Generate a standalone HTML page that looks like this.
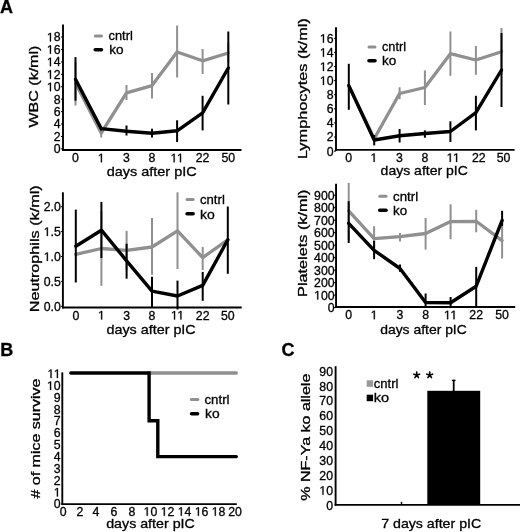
<!DOCTYPE html>
<html><head><meta charset="utf-8"><title>figure</title>
<style>
html,body{margin:0;padding:0;background:#fff;}
body{width:520px;height:532px;overflow:hidden;}
svg{display:block;will-change:transform;}
text{font-family:"Liberation Sans",sans-serif;fill:#000;stroke:#000;stroke-width:0.3px;}
</style></head><body>
<svg width="520" height="532" viewBox="0 0 520 532">
<line x1="75.5" y1="62" x2="75.5" y2="105.5" stroke="#909090" stroke-width="2" stroke-linecap="butt"/>
<line x1="101.2" y1="128.5" x2="101.2" y2="137.5" stroke="#909090" stroke-width="2" stroke-linecap="butt"/>
<line x1="126.5" y1="85" x2="126.5" y2="100" stroke="#909090" stroke-width="2" stroke-linecap="butt"/>
<line x1="152" y1="73" x2="152" y2="98.5" stroke="#909090" stroke-width="2" stroke-linecap="butt"/>
<line x1="177.1" y1="25.5" x2="177.1" y2="77.5" stroke="#909090" stroke-width="2" stroke-linecap="butt"/>
<line x1="202.6" y1="49" x2="202.6" y2="74" stroke="#909090" stroke-width="2" stroke-linecap="butt"/>
<line x1="228.3" y1="43" x2="228.3" y2="63" stroke="#909090" stroke-width="2" stroke-linecap="butt"/>
<polyline points="75.5,83 101.2,133 126.5,92.8 152,85.6 177.1,52 202.6,60.8 228.3,53" fill="none" stroke="#909090" stroke-width="3.3" stroke-linejoin="round" stroke-linecap="round"/>
<line x1="75.5" y1="57.1" x2="75.5" y2="100.7" stroke="#000000" stroke-width="2" stroke-linecap="butt"/>
<line x1="101.2" y1="126.5" x2="101.2" y2="130.5" stroke="#000000" stroke-width="2" stroke-linecap="butt"/>
<line x1="126.5" y1="125.5" x2="126.5" y2="135.5" stroke="#000000" stroke-width="2" stroke-linecap="butt"/>
<line x1="152" y1="128.75" x2="152" y2="137.5" stroke="#000000" stroke-width="2" stroke-linecap="butt"/>
<line x1="177.1" y1="120.3" x2="177.1" y2="142" stroke="#000000" stroke-width="2" stroke-linecap="butt"/>
<line x1="202.6" y1="95.8" x2="202.6" y2="130.4" stroke="#000000" stroke-width="2" stroke-linecap="butt"/>
<line x1="228.3" y1="31.5" x2="228.3" y2="104.5" stroke="#000000" stroke-width="2" stroke-linecap="butt"/>
<polyline points="75.5,79.2 101.2,128.6 126.5,131.2 152,133.2 177.1,130.8 202.6,112.9 228.3,68" fill="none" stroke="#000000" stroke-width="3.4" stroke-linejoin="round" stroke-linecap="round"/>
<line x1="63.0" y1="24.5" x2="63.0" y2="150.95" stroke="#000000" stroke-width="1.9" stroke-linecap="butt"/>
<line x1="62.05" y1="150.0" x2="241.5" y2="150.0" stroke="#000000" stroke-width="1.9" stroke-linecap="butt"/>
<text x="53.66" y="153.3" font-size="12.3" style="font-kerning:none">0</text>
<line x1="61.0" y1="148.9" x2="63.0" y2="148.9" stroke="#000000" stroke-width="1.0" stroke-linecap="butt"/>
<text x="53.66" y="140.87" font-size="12.3" style="font-kerning:none">2</text>
<line x1="61.0" y1="136.47" x2="63.0" y2="136.47" stroke="#000000" stroke-width="1.0" stroke-linecap="butt"/>
<text x="53.66" y="128.43" font-size="12.3" style="font-kerning:none">4</text>
<line x1="61.0" y1="124.03" x2="63.0" y2="124.03" stroke="#000000" stroke-width="1.0" stroke-linecap="butt"/>
<text x="53.66" y="116.0" font-size="12.3" style="font-kerning:none">6</text>
<line x1="61.0" y1="111.6" x2="63.0" y2="111.6" stroke="#000000" stroke-width="1.0" stroke-linecap="butt"/>
<text x="53.66" y="103.56" font-size="12.3" style="font-kerning:none">8</text>
<line x1="61.0" y1="99.16" x2="63.0" y2="99.16" stroke="#000000" stroke-width="1.0" stroke-linecap="butt"/>
<path d="M515,0L515,1237L197,1010L197,1180L530,1409L696,1409L696,0Z" transform="translate(46.82,91.13) scale(0.006006,-0.006006)" fill="#000" stroke="#000" stroke-width="50.0"/>
<text x="53.661" y="91.13" font-size="12.3">0</text>
<line x1="61.0" y1="86.73" x2="63.0" y2="86.73" stroke="#000000" stroke-width="1.0" stroke-linecap="butt"/>
<path d="M515,0L515,1237L197,1010L197,1180L530,1409L696,1409L696,0Z" transform="translate(46.82,78.7) scale(0.006006,-0.006006)" fill="#000" stroke="#000" stroke-width="50.0"/>
<text x="53.661" y="78.7" font-size="12.3">2</text>
<line x1="61.0" y1="74.3" x2="63.0" y2="74.3" stroke="#000000" stroke-width="1.0" stroke-linecap="butt"/>
<path d="M515,0L515,1237L197,1010L197,1180L530,1409L696,1409L696,0Z" transform="translate(46.82,66.26) scale(0.006006,-0.006006)" fill="#000" stroke="#000" stroke-width="50.0"/>
<text x="53.661" y="66.26" font-size="12.3">4</text>
<line x1="61.0" y1="61.86" x2="63.0" y2="61.86" stroke="#000000" stroke-width="1.0" stroke-linecap="butt"/>
<path d="M515,0L515,1237L197,1010L197,1180L530,1409L696,1409L696,0Z" transform="translate(46.82,53.83) scale(0.006006,-0.006006)" fill="#000" stroke="#000" stroke-width="50.0"/>
<text x="53.661" y="53.83" font-size="12.3">6</text>
<line x1="61.0" y1="49.43" x2="63.0" y2="49.43" stroke="#000000" stroke-width="1.0" stroke-linecap="butt"/>
<path d="M515,0L515,1237L197,1010L197,1180L530,1409L696,1409L696,0Z" transform="translate(46.82,41.39) scale(0.006006,-0.006006)" fill="#000" stroke="#000" stroke-width="50.0"/>
<text x="53.661" y="41.39" font-size="12.3">8</text>
<line x1="61.0" y1="36.99" x2="63.0" y2="36.99" stroke="#000000" stroke-width="1.0" stroke-linecap="butt"/>
<text x="72.08" y="162.3" font-size="12.3" style="font-kerning:none">0</text>
<path d="M515,0L515,1237L197,1010L197,1180L530,1409L696,1409L696,0Z" transform="translate(97.78,162.3) scale(0.006006,-0.006006)" fill="#000" stroke="#000" stroke-width="50.0"/>
<text x="123.08" y="162.3" font-size="12.3" style="font-kerning:none">3</text>
<text x="148.58" y="162.3" font-size="12.3" style="font-kerning:none">8</text>
<path d="M515,0L515,1237L197,1010L197,1180L530,1409L696,1409L696,0Z" transform="translate(170.5,162.3) scale(0.006006,-0.006006)" fill="#000" stroke="#000" stroke-width="50.0"/>
<path d="M515,0L515,1237L197,1010L197,1180L530,1409L696,1409L696,0Z" transform="translate(176.86,162.3) scale(0.006006,-0.006006)" fill="#000" stroke="#000" stroke-width="50.0"/>
<text x="195.76" y="162.3" font-size="12.3" style="font-kerning:none">22</text>
<text x="221.46" y="162.3" font-size="12.3" style="font-kerning:none">50</text>
<line x1="95.3" y1="36" x2="101.5" y2="36" stroke="#909090" stroke-width="3" stroke-linecap="round"/>
<line x1="95.3" y1="49.7" x2="101.5" y2="49.7" stroke="#000000" stroke-width="3.6" stroke-linecap="round"/>
<text x="108.5" y="39.7" font-size="12.2" textLength="24.3" lengthAdjust="spacingAndGlyphs">cntrl</text>
<text x="109.3" y="54" font-size="12.2" textLength="14.3" lengthAdjust="spacingAndGlyphs">ko</text>
<text transform="translate(37.8,127.6) rotate(-90)" font-size="12" textLength="82" lengthAdjust="spacingAndGlyphs">WBC (k/ml)</text>
<text x="106.7" y="175.9" font-size="13" textLength="90" lengthAdjust="spacingAndGlyphs">days after pIC</text>
<line x1="399.6" y1="87.3" x2="399.6" y2="99.2" stroke="#909090" stroke-width="2" stroke-linecap="butt"/>
<line x1="424.9" y1="70.4" x2="424.9" y2="105" stroke="#909090" stroke-width="2" stroke-linecap="butt"/>
<line x1="450.4" y1="31.5" x2="450.4" y2="75.8" stroke="#909090" stroke-width="2" stroke-linecap="butt"/>
<line x1="475.9" y1="46" x2="475.9" y2="74.8" stroke="#909090" stroke-width="2" stroke-linecap="butt"/>
<line x1="501.5" y1="28" x2="501.5" y2="75" stroke="#909090" stroke-width="2" stroke-linecap="butt"/>
<polyline points="348.8,85.6 374.2,138.7 399.6,93.5 424.9,87.5 450.4,53.7 475.9,60 501.5,51.7" fill="none" stroke="#909090" stroke-width="3.3" stroke-linejoin="round" stroke-linecap="round"/>
<line x1="348.8" y1="63.8" x2="348.8" y2="109.8" stroke="#000000" stroke-width="2" stroke-linecap="butt"/>
<line x1="374.2" y1="135" x2="374.2" y2="145.4" stroke="#000000" stroke-width="2" stroke-linecap="butt"/>
<line x1="399.6" y1="129" x2="399.6" y2="142.5" stroke="#000000" stroke-width="2" stroke-linecap="butt"/>
<line x1="424.9" y1="130.4" x2="424.9" y2="137.7" stroke="#000000" stroke-width="2" stroke-linecap="butt"/>
<line x1="450.4" y1="121.3" x2="450.4" y2="141.9" stroke="#000000" stroke-width="2" stroke-linecap="butt"/>
<line x1="475.9" y1="95.8" x2="475.9" y2="130.4" stroke="#000000" stroke-width="2" stroke-linecap="butt"/>
<line x1="501.5" y1="33" x2="501.5" y2="107" stroke="#000000" stroke-width="2" stroke-linecap="butt"/>
<polyline points="348.8,85.6 374.2,140 399.6,135.8 424.9,133.5 450.4,131.5 475.9,112.7 501.5,70" fill="none" stroke="#000000" stroke-width="3.4" stroke-linejoin="round" stroke-linecap="round"/>
<line x1="336.0" y1="27.3" x2="336.0" y2="150.85" stroke="#000000" stroke-width="1.9" stroke-linecap="butt"/>
<line x1="335.05" y1="149.9" x2="514.6" y2="149.9" stroke="#000000" stroke-width="1.9" stroke-linecap="butt"/>
<text x="326.66" y="155.5" font-size="12.3" style="font-kerning:none">0</text>
<line x1="334.0" y1="151.1" x2="336.0" y2="151.1" stroke="#000000" stroke-width="1.0" stroke-linecap="butt"/>
<text x="326.66" y="141.4" font-size="12.3" style="font-kerning:none">2</text>
<line x1="334.0" y1="137.0" x2="336.0" y2="137.0" stroke="#000000" stroke-width="1.0" stroke-linecap="butt"/>
<text x="326.66" y="127.3" font-size="12.3" style="font-kerning:none">4</text>
<line x1="334.0" y1="122.9" x2="336.0" y2="122.9" stroke="#000000" stroke-width="1.0" stroke-linecap="butt"/>
<text x="326.66" y="113.2" font-size="12.3" style="font-kerning:none">6</text>
<line x1="334.0" y1="108.8" x2="336.0" y2="108.8" stroke="#000000" stroke-width="1.0" stroke-linecap="butt"/>
<text x="326.66" y="99.1" font-size="12.3" style="font-kerning:none">8</text>
<line x1="334.0" y1="94.7" x2="336.0" y2="94.7" stroke="#000000" stroke-width="1.0" stroke-linecap="butt"/>
<path d="M515,0L515,1237L197,1010L197,1180L530,1409L696,1409L696,0Z" transform="translate(319.82,85.0) scale(0.006006,-0.006006)" fill="#000" stroke="#000" stroke-width="50.0"/>
<text x="326.661" y="85.0" font-size="12.3">0</text>
<line x1="334.0" y1="80.6" x2="336.0" y2="80.6" stroke="#000000" stroke-width="1.0" stroke-linecap="butt"/>
<path d="M515,0L515,1237L197,1010L197,1180L530,1409L696,1409L696,0Z" transform="translate(319.82,70.9) scale(0.006006,-0.006006)" fill="#000" stroke="#000" stroke-width="50.0"/>
<text x="326.661" y="70.9" font-size="12.3">2</text>
<line x1="334.0" y1="66.5" x2="336.0" y2="66.5" stroke="#000000" stroke-width="1.0" stroke-linecap="butt"/>
<path d="M515,0L515,1237L197,1010L197,1180L530,1409L696,1409L696,0Z" transform="translate(319.82,56.8) scale(0.006006,-0.006006)" fill="#000" stroke="#000" stroke-width="50.0"/>
<text x="326.661" y="56.8" font-size="12.3">4</text>
<line x1="334.0" y1="52.4" x2="336.0" y2="52.4" stroke="#000000" stroke-width="1.0" stroke-linecap="butt"/>
<path d="M515,0L515,1237L197,1010L197,1180L530,1409L696,1409L696,0Z" transform="translate(319.82,42.7) scale(0.006006,-0.006006)" fill="#000" stroke="#000" stroke-width="50.0"/>
<text x="326.661" y="42.7" font-size="12.3">6</text>
<line x1="334.0" y1="38.3" x2="336.0" y2="38.3" stroke="#000000" stroke-width="1.0" stroke-linecap="butt"/>
<text x="345.28" y="161.9" font-size="12.3" style="font-kerning:none">0</text>
<path d="M515,0L515,1237L197,1010L197,1180L530,1409L696,1409L696,0Z" transform="translate(370.48,161.9) scale(0.006006,-0.006006)" fill="#000" stroke="#000" stroke-width="50.0"/>
<text x="396.08" y="161.9" font-size="12.3" style="font-kerning:none">3</text>
<text x="421.38" y="161.9" font-size="12.3" style="font-kerning:none">8</text>
<path d="M515,0L515,1237L197,1010L197,1180L530,1409L696,1409L696,0Z" transform="translate(446.6,161.9) scale(0.006006,-0.006006)" fill="#000" stroke="#000" stroke-width="50.0"/>
<path d="M515,0L515,1237L197,1010L197,1180L530,1409L696,1409L696,0Z" transform="translate(452.96,161.9) scale(0.006006,-0.006006)" fill="#000" stroke="#000" stroke-width="50.0"/>
<text x="471.96" y="161.9" font-size="12.3" style="font-kerning:none">22</text>
<text x="496.76" y="161.9" font-size="12.3" style="font-kerning:none">50</text>
<line x1="369" y1="46.9" x2="375" y2="46.9" stroke="#909090" stroke-width="3" stroke-linecap="round"/>
<line x1="369" y1="60.8" x2="375" y2="60.8" stroke="#000000" stroke-width="3.6" stroke-linecap="round"/>
<text x="382" y="51" font-size="12.2" textLength="24" lengthAdjust="spacingAndGlyphs">cntrl</text>
<text x="382" y="65" font-size="12.2" textLength="14.3" lengthAdjust="spacingAndGlyphs">ko</text>
<text transform="translate(307.4,159.1) rotate(-90)" font-size="12" textLength="140.9" lengthAdjust="spacingAndGlyphs">Lymphocytes (k/ml)</text>
<text x="380.6" y="175" font-size="13" textLength="87.3" lengthAdjust="spacingAndGlyphs">days after pIC</text>
<line x1="101.4" y1="211" x2="101.4" y2="285.8" stroke="#909090" stroke-width="2" stroke-linecap="butt"/>
<line x1="126.6" y1="230.8" x2="126.6" y2="270" stroke="#909090" stroke-width="2" stroke-linecap="butt"/>
<line x1="152" y1="218" x2="152" y2="274.8" stroke="#909090" stroke-width="2" stroke-linecap="butt"/>
<line x1="177.5" y1="192.3" x2="177.5" y2="269" stroke="#909090" stroke-width="2" stroke-linecap="butt"/>
<line x1="202.7" y1="246.9" x2="202.7" y2="270" stroke="#909090" stroke-width="2" stroke-linecap="butt"/>
<polyline points="75.8,254.4 101.4,248.5 126.6,250.4 152,247 177.5,230.8 202.7,257.6 227.8,239.8" fill="none" stroke="#909090" stroke-width="3.3" stroke-linejoin="round" stroke-linecap="round"/>
<line x1="75.8" y1="209.6" x2="75.8" y2="282.5" stroke="#000000" stroke-width="2" stroke-linecap="butt"/>
<line x1="101.4" y1="201.9" x2="101.4" y2="258" stroke="#000000" stroke-width="2" stroke-linecap="butt"/>
<line x1="126.6" y1="243.7" x2="126.6" y2="278.7" stroke="#000000" stroke-width="2" stroke-linecap="butt"/>
<line x1="152" y1="276.7" x2="152" y2="308" stroke="#000000" stroke-width="2" stroke-linecap="butt"/>
<line x1="177.5" y1="280.6" x2="177.5" y2="309.5" stroke="#000000" stroke-width="2" stroke-linecap="butt"/>
<line x1="202.7" y1="271.9" x2="202.7" y2="300.8" stroke="#000000" stroke-width="2" stroke-linecap="butt"/>
<line x1="227.8" y1="206.5" x2="227.8" y2="273.8" stroke="#000000" stroke-width="2" stroke-linecap="butt"/>
<polyline points="75.8,246.2 101.4,230.2 126.6,260.8 152,291.2 177.5,296 202.7,285.4 227.8,239.8" fill="none" stroke="#000000" stroke-width="3.4" stroke-linejoin="round" stroke-linecap="round"/>
<line x1="62.9" y1="192.3" x2="62.9" y2="308.4" stroke="#000000" stroke-width="1.9" stroke-linecap="butt"/>
<line x1="61.949999999999996" y1="307.45" x2="241.7" y2="307.45" stroke="#000000" stroke-width="1.9" stroke-linecap="butt"/>
<text x="43.7" y="310.7" font-size="12.3" style="font-kerning:none">0.0</text>
<line x1="60.9" y1="306.3" x2="62.9" y2="306.3" stroke="#000000" stroke-width="1.0" stroke-linecap="butt"/>
<text x="43.7" y="285.8" font-size="12.3" style="font-kerning:none">0.5</text>
<line x1="60.9" y1="281.4" x2="62.9" y2="281.4" stroke="#000000" stroke-width="1.0" stroke-linecap="butt"/>
<path d="M515,0L515,1237L197,1010L197,1180L530,1409L696,1409L696,0Z" transform="translate(43.7,260.9) scale(0.006006,-0.006006)" fill="#000" stroke="#000" stroke-width="50.0"/>
<text x="50.541" y="260.9" font-size="12.3">.</text>
<text x="53.958" y="260.9" font-size="12.3">0</text>
<line x1="60.9" y1="256.5" x2="62.9" y2="256.5" stroke="#000000" stroke-width="1.0" stroke-linecap="butt"/>
<path d="M515,0L515,1237L197,1010L197,1180L530,1409L696,1409L696,0Z" transform="translate(43.7,236.0) scale(0.006006,-0.006006)" fill="#000" stroke="#000" stroke-width="50.0"/>
<text x="50.541" y="236.0" font-size="12.3">.</text>
<text x="53.958" y="236.0" font-size="12.3">5</text>
<line x1="60.9" y1="231.6" x2="62.9" y2="231.6" stroke="#000000" stroke-width="1.0" stroke-linecap="butt"/>
<text x="43.7" y="211.1" font-size="12.3" style="font-kerning:none">2.0</text>
<line x1="60.9" y1="206.7" x2="62.9" y2="206.7" stroke="#000000" stroke-width="1.0" stroke-linecap="butt"/>
<text x="72.38" y="319.5" font-size="12.3" style="font-kerning:none">0</text>
<path d="M515,0L515,1237L197,1010L197,1180L530,1409L696,1409L696,0Z" transform="translate(97.98,319.5) scale(0.006006,-0.006006)" fill="#000" stroke="#000" stroke-width="50.0"/>
<text x="123.18" y="319.5" font-size="12.3" style="font-kerning:none">3</text>
<text x="148.58" y="319.5" font-size="12.3" style="font-kerning:none">8</text>
<path d="M515,0L515,1237L197,1010L197,1180L530,1409L696,1409L696,0Z" transform="translate(170.9,319.5) scale(0.006006,-0.006006)" fill="#000" stroke="#000" stroke-width="50.0"/>
<path d="M515,0L515,1237L197,1010L197,1180L530,1409L696,1409L696,0Z" transform="translate(177.26,319.5) scale(0.006006,-0.006006)" fill="#000" stroke="#000" stroke-width="50.0"/>
<text x="195.86" y="319.5" font-size="12.3" style="font-kerning:none">22</text>
<text x="220.96" y="319.5" font-size="12.3" style="font-kerning:none">50</text>
<line x1="187.1" y1="199.6" x2="193.1" y2="199.6" stroke="#909090" stroke-width="3" stroke-linecap="round"/>
<line x1="187.1" y1="213.8" x2="193.1" y2="213.8" stroke="#000000" stroke-width="3.6" stroke-linecap="round"/>
<text x="200" y="204" font-size="12.2" textLength="24.8" lengthAdjust="spacingAndGlyphs">cntrl</text>
<text x="200" y="218.5" font-size="12.2" textLength="14.8" lengthAdjust="spacingAndGlyphs">ko</text>
<text transform="translate(38.7,312.3) rotate(-90)" font-size="12" textLength="127" lengthAdjust="spacingAndGlyphs">Neutrophils (k/ml)</text>
<text x="106.5" y="333.6" font-size="13" textLength="89.2" lengthAdjust="spacingAndGlyphs">days after pIC</text>
<line x1="348.7" y1="182.9" x2="348.7" y2="240" stroke="#909090" stroke-width="2" stroke-linecap="butt"/>
<line x1="374.1" y1="226.2" x2="374.1" y2="251" stroke="#909090" stroke-width="2" stroke-linecap="butt"/>
<line x1="400" y1="232.9" x2="400" y2="241.5" stroke="#909090" stroke-width="2" stroke-linecap="butt"/>
<line x1="425.6" y1="218" x2="425.6" y2="249.6" stroke="#909090" stroke-width="2" stroke-linecap="butt"/>
<line x1="450.6" y1="204.3" x2="450.6" y2="239.2" stroke="#909090" stroke-width="2" stroke-linecap="butt"/>
<line x1="476.2" y1="209.8" x2="476.2" y2="232.3" stroke="#909090" stroke-width="2" stroke-linecap="butt"/>
<line x1="502.1" y1="222" x2="502.1" y2="258.5" stroke="#909090" stroke-width="2" stroke-linecap="butt"/>
<polyline points="348.7,210.8 374.1,238.7 400,236.7 425.6,233.5 450.6,221.6 476.2,221.3 502.1,240.6" fill="none" stroke="#909090" stroke-width="3.3" stroke-linejoin="round" stroke-linecap="round"/>
<line x1="348.7" y1="201.2" x2="348.7" y2="243" stroke="#000000" stroke-width="2" stroke-linecap="butt"/>
<line x1="374.1" y1="241" x2="374.1" y2="259.2" stroke="#000000" stroke-width="2" stroke-linecap="butt"/>
<line x1="400" y1="264.6" x2="400" y2="271.7" stroke="#000000" stroke-width="2" stroke-linecap="butt"/>
<line x1="425.6" y1="293.5" x2="425.6" y2="307" stroke="#000000" stroke-width="2" stroke-linecap="butt"/>
<line x1="450.6" y1="297" x2="450.6" y2="307" stroke="#000000" stroke-width="2" stroke-linecap="butt"/>
<line x1="476.2" y1="266.9" x2="476.2" y2="307" stroke="#000000" stroke-width="2" stroke-linecap="butt"/>
<line x1="502.1" y1="210.8" x2="502.1" y2="226" stroke="#000000" stroke-width="2" stroke-linecap="butt"/>
<polyline points="348.7,223.3 374.1,250.3 400,268.5 425.6,302.5 450.6,302.8 476.2,286.2 502.1,220.4" fill="none" stroke="#000000" stroke-width="3.4" stroke-linejoin="round" stroke-linecap="round"/>
<line x1="336.05" y1="183.8" x2="336.05" y2="307.95" stroke="#000000" stroke-width="1.9" stroke-linecap="butt"/>
<line x1="335.1" y1="307.0" x2="515.2" y2="307.0" stroke="#000000" stroke-width="1.9" stroke-linecap="butt"/>
<text x="327.76" y="312.0" font-size="12.3" style="font-kerning:none">0</text>
<line x1="334.05" y1="307.6" x2="336.05" y2="307.6" stroke="#000000" stroke-width="1.0" stroke-linecap="butt"/>
<path d="M515,0L515,1237L197,1010L197,1180L530,1409L696,1409L696,0Z" transform="translate(314.08,299.51) scale(0.006006,-0.006006)" fill="#000" stroke="#000" stroke-width="50.0"/>
<text x="320.921" y="299.51" font-size="12.3">0</text>
<text x="327.761" y="299.51" font-size="12.3">0</text>
<line x1="334.05" y1="295.11" x2="336.05" y2="295.11" stroke="#000000" stroke-width="1.0" stroke-linecap="butt"/>
<text x="314.08" y="287.02" font-size="12.3" style="font-kerning:none">200</text>
<line x1="334.05" y1="282.62" x2="336.05" y2="282.62" stroke="#000000" stroke-width="1.0" stroke-linecap="butt"/>
<text x="314.08" y="274.53" font-size="12.3" style="font-kerning:none">300</text>
<line x1="334.05" y1="270.13" x2="336.05" y2="270.13" stroke="#000000" stroke-width="1.0" stroke-linecap="butt"/>
<text x="314.08" y="262.04" font-size="12.3" style="font-kerning:none">400</text>
<line x1="334.05" y1="257.64" x2="336.05" y2="257.64" stroke="#000000" stroke-width="1.0" stroke-linecap="butt"/>
<text x="314.08" y="249.55" font-size="12.3" style="font-kerning:none">500</text>
<line x1="334.05" y1="245.15" x2="336.05" y2="245.15" stroke="#000000" stroke-width="1.0" stroke-linecap="butt"/>
<text x="314.08" y="237.06" font-size="12.3" style="font-kerning:none">600</text>
<line x1="334.05" y1="232.66" x2="336.05" y2="232.66" stroke="#000000" stroke-width="1.0" stroke-linecap="butt"/>
<text x="314.08" y="224.57" font-size="12.3" style="font-kerning:none">700</text>
<line x1="334.05" y1="220.17" x2="336.05" y2="220.17" stroke="#000000" stroke-width="1.0" stroke-linecap="butt"/>
<text x="314.08" y="212.08" font-size="12.3" style="font-kerning:none">800</text>
<line x1="334.05" y1="207.68" x2="336.05" y2="207.68" stroke="#000000" stroke-width="1.0" stroke-linecap="butt"/>
<text x="314.08" y="199.59" font-size="12.3" style="font-kerning:none">900</text>
<line x1="334.05" y1="195.19" x2="336.05" y2="195.19" stroke="#000000" stroke-width="1.0" stroke-linecap="butt"/>
<text x="345.28" y="319.2" font-size="12.3" style="font-kerning:none">0</text>
<path d="M515,0L515,1237L197,1010L197,1180L530,1409L696,1409L696,0Z" transform="translate(370.68,319.2) scale(0.006006,-0.006006)" fill="#000" stroke="#000" stroke-width="50.0"/>
<text x="396.58" y="319.2" font-size="12.3" style="font-kerning:none">3</text>
<text x="422.18" y="319.2" font-size="12.3" style="font-kerning:none">8</text>
<path d="M515,0L515,1237L197,1010L197,1180L530,1409L696,1409L696,0Z" transform="translate(444.0,319.2) scale(0.006006,-0.006006)" fill="#000" stroke="#000" stroke-width="50.0"/>
<path d="M515,0L515,1237L197,1010L197,1180L530,1409L696,1409L696,0Z" transform="translate(450.36,319.2) scale(0.006006,-0.006006)" fill="#000" stroke="#000" stroke-width="50.0"/>
<text x="469.36" y="319.2" font-size="12.3" style="font-kerning:none">22</text>
<text x="495.26" y="319.2" font-size="12.3" style="font-kerning:none">50</text>
<line x1="379.8" y1="196.3" x2="386" y2="196.3" stroke="#909090" stroke-width="3" stroke-linecap="round"/>
<line x1="379.8" y1="210.2" x2="386" y2="210.2" stroke="#000000" stroke-width="3.6" stroke-linecap="round"/>
<text x="393" y="200.8" font-size="12.2" textLength="25.1" lengthAdjust="spacingAndGlyphs">cntrl</text>
<text x="393" y="214.8" font-size="12.2" textLength="14.1" lengthAdjust="spacingAndGlyphs">ko</text>
<text transform="translate(307.2,296.9) rotate(-90)" font-size="12" textLength="107.4" lengthAdjust="spacingAndGlyphs">Platelets (k/ml)</text>
<text x="380.2" y="333.6" font-size="13" textLength="86.6" lengthAdjust="spacingAndGlyphs">days after pIC</text>
<polyline points="149,373 236.3,373" fill="none" stroke="#909090" stroke-width="3.3" stroke-linecap="round"/>
<polyline points="70.8,373 149.1,373 149.1,420.8 157.8,420.8 157.8,456.6 236.3,456.6" fill="none" stroke="#000000" stroke-width="3.4" stroke-linecap="round" stroke-linejoin="miter"/>
<line x1="62.3" y1="372.4" x2="62.3" y2="505.05" stroke="#000000" stroke-width="1.9" stroke-linecap="butt"/>
<line x1="61.35" y1="504.1" x2="236.8" y2="504.1" stroke="#000000" stroke-width="1.9" stroke-linecap="butt"/>
<text x="53.76" y="508.4" font-size="12.3" style="font-kerning:none">0</text>
<path d="M515,0L515,1237L197,1010L197,1180L530,1409L696,1409L696,0Z" transform="translate(53.76,496.55) scale(0.006006,-0.006006)" fill="#000" stroke="#000" stroke-width="50.0"/>
<text x="53.76" y="484.7" font-size="12.3" style="font-kerning:none">2</text>
<text x="53.76" y="472.85" font-size="12.3" style="font-kerning:none">3</text>
<text x="53.76" y="461.0" font-size="12.3" style="font-kerning:none">4</text>
<text x="53.76" y="449.15" font-size="12.3" style="font-kerning:none">5</text>
<text x="53.76" y="437.3" font-size="12.3" style="font-kerning:none">6</text>
<text x="53.76" y="425.45" font-size="12.3" style="font-kerning:none">7</text>
<text x="53.76" y="413.6" font-size="12.3" style="font-kerning:none">8</text>
<text x="53.76" y="401.75" font-size="12.3" style="font-kerning:none">9</text>
<path d="M515,0L515,1237L197,1010L197,1180L530,1409L696,1409L696,0Z" transform="translate(46.92,389.9) scale(0.006006,-0.006006)" fill="#000" stroke="#000" stroke-width="50.0"/>
<text x="53.761" y="389.9" font-size="12.3">0</text>
<path d="M515,0L515,1237L197,1010L197,1180L530,1409L696,1409L696,0Z" transform="translate(47.4,378.05) scale(0.006006,-0.006006)" fill="#000" stroke="#000" stroke-width="50.0"/>
<path d="M515,0L515,1237L197,1010L197,1180L530,1409L696,1409L696,0Z" transform="translate(53.76,378.05) scale(0.006006,-0.006006)" fill="#000" stroke="#000" stroke-width="50.0"/>
<text x="59.68" y="515.8" font-size="12.3" style="font-kerning:none">0</text>
<text x="76.48" y="515.8" font-size="12.3" style="font-kerning:none">2</text>
<text x="92.58" y="515.8" font-size="12.3" style="font-kerning:none">4</text>
<text x="110.58" y="515.8" font-size="12.3" style="font-kerning:none">6</text>
<text x="128.58" y="515.8" font-size="12.3" style="font-kerning:none">8</text>
<path d="M515,0L515,1237L197,1010L197,1180L530,1409L696,1409L696,0Z" transform="translate(143.56,515.8) scale(0.006006,-0.006006)" fill="#000" stroke="#000" stroke-width="50.0"/>
<text x="150.401" y="515.8" font-size="12.3">0</text>
<path d="M515,0L515,1237L197,1010L197,1180L530,1409L696,1409L696,0Z" transform="translate(160.66,515.8) scale(0.006006,-0.006006)" fill="#000" stroke="#000" stroke-width="50.0"/>
<text x="167.501" y="515.8" font-size="12.3">2</text>
<path d="M515,0L515,1237L197,1010L197,1180L530,1409L696,1409L696,0Z" transform="translate(177.66,515.8) scale(0.006006,-0.006006)" fill="#000" stroke="#000" stroke-width="50.0"/>
<text x="184.501" y="515.8" font-size="12.3">4</text>
<path d="M515,0L515,1237L197,1010L197,1180L530,1409L696,1409L696,0Z" transform="translate(194.76,515.8) scale(0.006006,-0.006006)" fill="#000" stroke="#000" stroke-width="50.0"/>
<text x="201.601" y="515.8" font-size="12.3">6</text>
<path d="M515,0L515,1237L197,1010L197,1180L530,1409L696,1409L696,0Z" transform="translate(211.66,515.8) scale(0.006006,-0.006006)" fill="#000" stroke="#000" stroke-width="50.0"/>
<text x="218.501" y="515.8" font-size="12.3">8</text>
<text x="228.16" y="515.8" font-size="12.3" style="font-kerning:none">20</text>
<line x1="191.4" y1="399.6" x2="197.8" y2="399.6" stroke="#909090" stroke-width="3" stroke-linecap="round"/>
<line x1="191.6" y1="413.8" x2="197.6" y2="413.8" stroke="#000000" stroke-width="3.6" stroke-linecap="round"/>
<text x="204.5" y="403.6" font-size="12.2" textLength="25" lengthAdjust="spacingAndGlyphs">cntrl</text>
<text x="205.0" y="418.3" font-size="12.2" textLength="14.6" lengthAdjust="spacingAndGlyphs">ko</text>
<text transform="translate(39.5,498.5) rotate(-90)" font-size="12" textLength="119.9" lengthAdjust="spacingAndGlyphs"># of mice survive</text>
<text x="106.2" y="527.5" font-size="13" textLength="88.6" lengthAdjust="spacingAndGlyphs">days after pIC</text>
<line x1="335.6" y1="366.2" x2="335.6" y2="505.8" stroke="#000000" stroke-width="1.9" stroke-linecap="butt"/>
<line x1="334.65" y1="504.85" x2="520" y2="504.85" stroke="#000000" stroke-width="1.9" stroke-linecap="butt"/>
<text x="326.16" y="509.7" font-size="12.3" style="font-kerning:none">0</text>
<path d="M515,0L515,1237L197,1010L197,1180L530,1409L696,1409L696,0Z" transform="translate(319.32,494.8) scale(0.006006,-0.006006)" fill="#000" stroke="#000" stroke-width="50.0"/>
<text x="326.161" y="494.8" font-size="12.3">0</text>
<text x="319.32" y="479.9" font-size="12.3" style="font-kerning:none">20</text>
<text x="319.32" y="465.0" font-size="12.3" style="font-kerning:none">30</text>
<text x="319.32" y="450.1" font-size="12.3" style="font-kerning:none">40</text>
<text x="319.32" y="435.2" font-size="12.3" style="font-kerning:none">50</text>
<text x="319.32" y="420.3" font-size="12.3" style="font-kerning:none">60</text>
<text x="319.32" y="405.4" font-size="12.3" style="font-kerning:none">70</text>
<text x="319.32" y="390.5" font-size="12.3" style="font-kerning:none">80</text>
<text x="319.32" y="375.6" font-size="12.3" style="font-kerning:none">90</text>
<rect x="427.3" y="390.8" width="52.9" height="114" fill="#000"/>
<line x1="453.7" y1="379.8" x2="453.7" y2="391" stroke="#000000" stroke-width="1.8" stroke-linecap="butt"/>
<line x1="451.9" y1="380.4" x2="455.5" y2="380.4" stroke="#000000" stroke-width="1.4" stroke-linecap="butt"/>
<line x1="401.5" y1="501.8" x2="401.5" y2="504" stroke="#000000" stroke-width="1.5" stroke-linecap="butt"/>
<rect x="366.7" y="380.3" width="6.4" height="6.5" fill="#999"/>
<rect x="366.7" y="394.7" width="6.4" height="6.5" fill="#000"/>
<text x="373.8" y="387.6" font-size="12.2" textLength="24.7" lengthAdjust="spacingAndGlyphs">cntrl</text>
<text x="373.8" y="401.6" font-size="12.2" textLength="15.4" lengthAdjust="spacingAndGlyphs">ko</text>
<path d="M416.7,375.1L416.70,372.10M416.7,375.1L419.55,374.17M416.7,375.1L413.85,374.17M416.7,375.1L418.46,377.53M416.7,375.1L414.94,377.53" stroke="#000" stroke-width="1.6" stroke-linecap="round" fill="none"/>
<path d="M429.7,375.1L429.70,372.10M429.7,375.1L432.55,374.17M429.7,375.1L426.85,374.17M429.7,375.1L431.46,377.53M429.7,375.1L427.94,377.53" stroke="#000" stroke-width="1.6" stroke-linecap="round" fill="none"/>
<text transform="translate(309.6,500.7) rotate(-90)" font-size="12" textLength="127" lengthAdjust="spacingAndGlyphs">% NF-Ya ko allele</text>
<text x="381.2" y="528.3" font-size="13" textLength="100" lengthAdjust="spacingAndGlyphs">7 days after pIC</text>
<text x="0.0" y="13.0" font-size="18" font-weight="bold">A</text>
<text x="0.2" y="356" font-size="18" font-weight="bold">B</text>
<text x="281.4" y="356.3" font-size="18" font-weight="bold">C</text>
</svg>
</body></html>
